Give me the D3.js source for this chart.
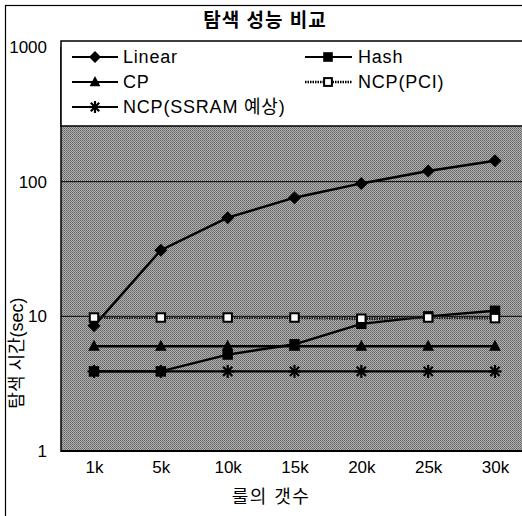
<!DOCTYPE html>
<html>
<head>
<meta charset="utf-8">
<script src="https://cdn.jsdelivr.net/npm/d3@7"></script>
<style>
  body { margin: 0; background: #fff; }
  text { font-family: "Liberation Sans", Arial, "Noto Sans CJK KR", sans-serif; fill: #000; }
</style>
</head>
<body>
<svg width="522" height="516"></svg>
<script>
const categories = ['1k', '5k', '10k', '15k', '20k', '25k', '30k'];
const linear = [8.5, 31, 54, 76, 97, 120, 143];
const hash = [3.9, 3.9, 5.2, 6.2, 8.8, 10, 11];
const cp = [6, 6, 6, 6, 6, 6, 6];
const ncpPci = [9.8, 9.8, 9.8, 9.8, 9.6, 9.8, 9.7];
const ncpSsram = [3.9, 3.9, 3.9, 3.9, 3.9, 3.9, 3.9];
const yTicks = [1, 10, 100, 1000];

const series = [
    { name: 'Linear', values: linear, marker: 'diamond' },
    { name: 'Hash', values: hash, marker: 'square' },
    { name: 'CP', values: cp, marker: 'triangle' },
    { name: 'NCP(PCI)', values: ncpPci, marker: 'openSquare' },
    { name: 'NCP(SSRAM 예상)', values: ncpSsram, marker: 'star' }
];

const svg = d3.select('svg');
const plot = { left: 61, right: 530, top: 47, bottom: 451 };

const x = d3.scalePoint().domain(categories).range([94, 495]);
const y = d3.scaleLog().domain([1, 1000]).range([plot.bottom, plot.top]);

// outer frame
svg.append('rect')
    .attr('x', 5.5).attr('y', 5.5)
    .attr('width', 540).attr('height', 530)
    .attr('fill', 'none').attr('stroke', '#000').attr('stroke-width', 1.2);

// dithered grey plot background
const defs = svg.append('defs');
const pat = defs.append('pattern')
    .attr('id', 'dither')
    .attr('width', 2).attr('height', 2)
    .attr('patternUnits', 'userSpaceOnUse');
pat.append('rect').attr('width', 2).attr('height', 2).attr('fill', '#b0b0b0');
pat.append('rect').attr('width', 1).attr('height', 1).attr('fill', '#666');
pat.append('rect').attr('x', 1).attr('y', 1).attr('width', 1).attr('height', 1).attr('fill', '#767676');

svg.append('rect')
    .attr('x', plot.left).attr('y', plot.top)
    .attr('width', plot.right - plot.left)
    .attr('height', plot.bottom - plot.top)
    .attr('fill', 'url(#dither)');

// grid lines
svg.append('g')
    .selectAll('line')
    .data(yTicks.slice(1, -1))
    .join('line')
    .attr('x1', plot.left).attr('x2', plot.right)
    .attr('y1', d => y(d)).attr('y2', d => y(d))
    .attr('stroke', '#000').attr('stroke-width', 1);

// plot frame
svg.append('line')
    .attr('x1', plot.left).attr('x2', plot.left)
    .attr('y1', plot.top).attr('y2', plot.bottom + 1)
    .attr('stroke', '#000').attr('stroke-width', 1.5);
svg.append('line')
    .attr('x1', plot.left).attr('x2', plot.right)
    .attr('y1', plot.bottom).attr('y2', plot.bottom)
    .attr('stroke', '#000').attr('stroke-width', 2);

// y axis labels
const yAxis = d3.axisLeft(y).tickValues(yTicks).tickFormat(d3.format('d')).tickSize(0).tickPadding(14);
const gy = svg.append('g').attr('transform', `translate(${plot.left},0)`).call(yAxis);
gy.select('.domain').remove();
gy.selectAll('text').style('font-size', '17px');

// x axis labels
const xAxis = d3.axisBottom(x).tickSize(0).tickPadding(10);
const gx = svg.append('g').attr('transform', `translate(0,${plot.bottom})`).call(xAxis);
gx.select('.domain').remove();
gx.selectAll('text').style('font-size', '17px');

function drawMarker(g, type, size) {
    const s = size;
    if (type === 'diamond') {
        g.append('path').attr('d', `M0,${-s}L${s},0L0,${s}L${-s},0Z`).attr('fill', '#000');
    } else if (type === 'square') {
        g.append('rect').attr('x', -s * 0.8).attr('y', -s * 0.8).attr('width', s * 1.6).attr('height', s * 1.6).attr('fill', '#000');
    } else if (type === 'triangle') {
        g.append('path').attr('d', `M0,${-s}L${s * 0.9},${s * 0.7}L${-s * 0.9},${s * 0.7}Z`).attr('fill', '#000');
    } else if (type === 'openSquare') {
        g.append('rect').attr('x', -s * 0.65).attr('y', -s * 0.65).attr('width', s * 1.3).attr('height', s * 1.3)
            .attr('fill', '#fff').attr('stroke', '#000').attr('stroke-width', 2);
    } else if (type === 'star') {
        const p = g.append('g').attr('stroke', '#000').attr('stroke-width', 2.2);
        [0, 45, 90, 135].forEach(a => {
            const r = a * Math.PI / 180;
            p.append('line')
                .attr('x1', -Math.cos(r) * s).attr('y1', -Math.sin(r) * s)
                .attr('x2', Math.cos(r) * s).attr('y2', Math.sin(r) * s);
        });
    }
}

const line = d3.line()
    .x((d, i) => x(categories[i]))
    .y(d => y(d));

series.forEach(s => {
    const dashed = s.marker === 'openSquare';
    svg.append('path')
        .datum(s.values)
        .attr('d', line)
        .attr('fill', 'none')
        .attr('stroke', dashed ? '#222' : '#000')
        .attr('stroke-width', dashed ? 3 : 2.4)
        .attr('stroke-dasharray', dashed ? '1.5,1' : null);
});

series.forEach(s => {
    s.values.forEach((v, i) => {
        const g = svg.append('g').attr('transform', `translate(${x(categories[i])},${y(v)})`);
        drawMarker(g, s.marker, 6.5);
    });
});

// legend box
const legend = svg.append('g');
legend.append('rect')
    .attr('x', plot.left).attr('y', 41)
    .attr('width', 480).attr('height', 85)
    .attr('fill', '#fff').attr('stroke', '#000').attr('stroke-width', 1.5);

const legendPos = [
    { lx: 72, ty: 57 }, { lx: 305, ty: 57 },
    { lx: 72, ty: 82 }, { lx: 305, ty: 82 },
    { lx: 72, ty: 107 }
];
series.forEach((s, i) => {
    const p = legendPos[i];
    const dashed = s.marker === 'openSquare';
    const w = i % 2 ? 47 : 46;
    legend.append('line')
        .attr('x1', p.lx).attr('x2', p.lx + w)
        .attr('y1', p.ty).attr('y2', p.ty)
        .attr('stroke', '#000').attr('stroke-width', dashed ? 2.5 : 2)
        .attr('stroke-dasharray', dashed ? '1.5,1' : null);
    const g = legend.append('g').attr('transform', `translate(${p.lx + 23},${p.ty})`);
    drawMarker(g, s.marker, 6);
    legend.append('text')
        .attr('x', p.lx + (i % 2 ? 53 : 51)).attr('y', p.ty)
        .attr('dy', '0.36em')
        .style('font-size', '18px')
        .style('letter-spacing', '0.8px')
        .text(s.name);
});

// titles
svg.append('text')
    .attr('x', 265).attr('y', 20).attr('dy', '0.36em')
    .attr('text-anchor', 'middle')
    .style('font-size', '19px').style('font-weight', 'bold')
    .style('letter-spacing', '1px')
    .text('탐색 성능 비교');

svg.append('text')
    .attr('transform', 'translate(17,353) rotate(-90)')
    .attr('dy', '0.36em')
    .attr('text-anchor', 'middle')
    .style('font-size', '18px')
    .text('탐색 시간(sec)');

svg.append('text')
    .attr('x', 271).attr('y', 497).attr('dy', '0.36em')
    .attr('text-anchor', 'middle')
    .style('font-size', '18px')
    .style('letter-spacing', '1.5px')
    .text('룰의 갯수');
</script>
</body>
</html>
